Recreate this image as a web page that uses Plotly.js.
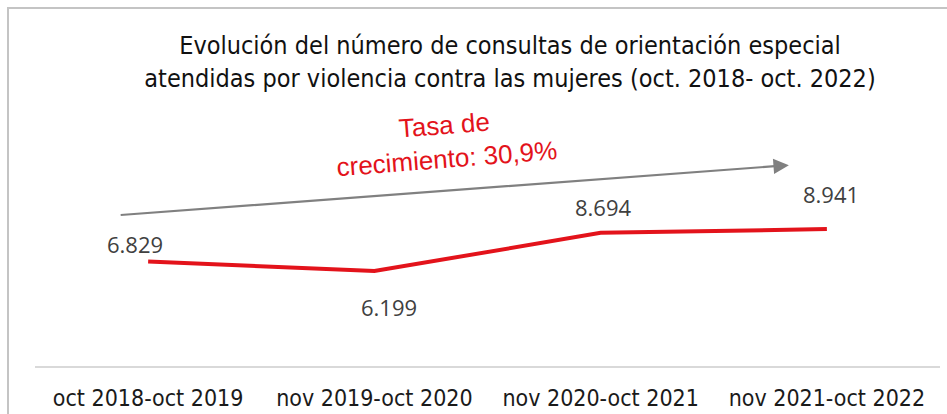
<!DOCTYPE html>
<html>
<head>
<meta charset="utf-8">
<script src="https://cdn.plot.ly/plotly-3.0.1.min.js"></script>
<style>
html,body{margin:0;padding:0;background:#fff;}
#wrap{position:relative;width:947px;height:414px;}
#chart{width:947px;height:414px;}
#frame{position:absolute;left:7px;top:7px;right:0;bottom:0;border-left:2px solid #c4c4c4;border-top:2px solid #c4c4c4;pointer-events:none;}
</style>
</head>
<body>
<div id="wrap"><div id="chart"></div><div id="frame"></div></div>
<script>
const categories = ["oct 2018-oct 2019", "nov 2019-oct 2020", "nov 2020-oct 2021", "nov 2021-oct 2022"];
const consultas = [6829, 6199, 8694, 8941];
const growthText = "Tasa de<br>crecimiento: 30,9%";
const titleText = "Evolución del número de consultas de orientación especial<br>atendidas por violencia contra las mujeres (oct. 2018- oct. 2022)";

function fmt(v){ return String(v).replace(/\B(?=(\d{3})+(?!\d))/g, "."); }

const labelShift = [[-13, 17], [15, -36], [3, 26], [4, 35]];
const titleFont = "'Liberation Sans Narrow', 'DejaVu Sans Condensed', 'Liberation Sans', sans-serif";

const annotations = consultas.map((v, i) => ({
  x: i, y: v, xref: "x", yref: "y", text: fmt(v), showarrow: false,
  xshift: labelShift[i][0], yshift: labelShift[i][1],
  font: {family: "'Open Sans', sans-serif", size: 22, color: "#404040"}
}));
annotations.push({
  x: 2.832, y: 13116, ax: -0.128, ay: 9853, xref: "x", yref: "y", axref: "x", ayref: "y",
  text: "", showarrow: true, arrowhead: 2, arrowsize: 1.4, arrowwidth: 2.2, arrowcolor: "#808080"
});
annotations.push({
  x: (445 - 35) / 905, y: (366 - 142) / 245, xref: "paper", yref: "paper", text: growthText, showarrow: false,
  xanchor: "center", yanchor: "middle", textangle: -4.5, align: "center",
  font: {family: "'Liberation Sans', sans-serif", size: 26, color: "#e3131b"}
});

const trace = {
  x: categories.map((c, i) => i), y: consultas, type: "scatter", mode: "lines",
  line: {color: "#e3131b", width: 4}, hoverinfo: "skip", cliponaxis: false
};

const layout = {
  width: 947, height: 414,
  margin: {l: 35, r: 7, t: 121, b: 48},
  paper_bgcolor: "#ffffff", plot_bgcolor: "#ffffff",
  showlegend: false,
  title: {text: titleText, x: 510/947, xanchor: "center", xref: "container",
          y: 1 - 54/414, yanchor: "top", yref: "container",
          font: {family: titleFont, size: 25, color: "#111111"}},
  xaxis: {range: [-0.5, 3.5], tickmode: "array", tickvals: [0,1,2,3], ticktext: categories,
          showgrid: false, zeroline: false, showline: true, linecolor: "#d9d9d9", linewidth: 1.5,
          ticks: "", ticklabelstandoff: 11,
          tickfont: {family: titleFont, size: 23, color: "#1a1a1a"}, fixedrange: true},
  yaxis: {range: [0, 16000], visible: false, showgrid: false, zeroline: false, fixedrange: true},
  annotations: annotations
};

Plotly.newPlot("chart", [trace], layout, {displayModeBar: false, staticPlot: true});
</script>
</body>
</html>
